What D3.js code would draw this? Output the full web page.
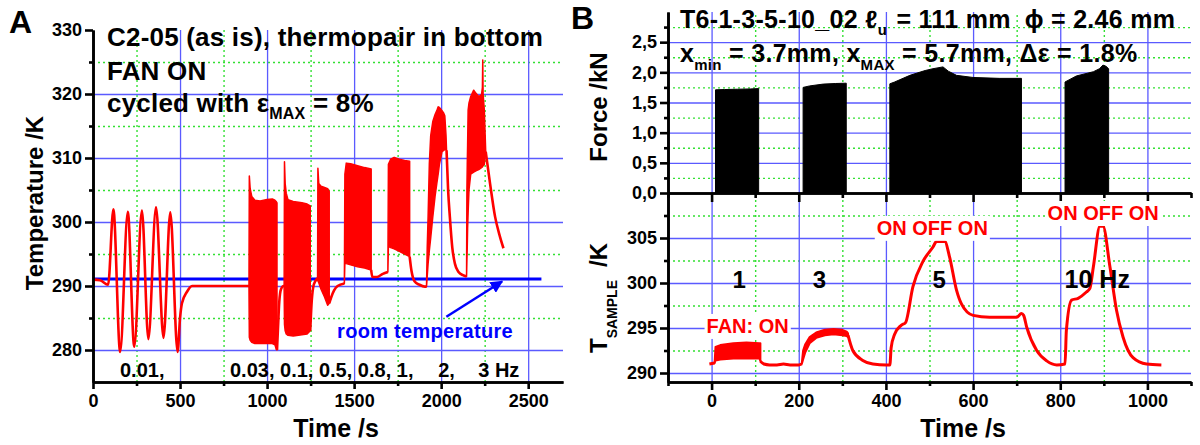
<!DOCTYPE html>
<html>
<head>
<meta charset="utf-8">
<script src="https://cdn.jsdelivr.net/npm/d3@7/dist/d3.min.js"></script>
<style>
body { margin: 0; background: #fff; }
svg text { font-family: "Liberation Sans", Arial, sans-serif; font-weight: bold; }
.grid-major line { stroke: #5a5aff; stroke-width: 1.3; }
.grid-minor line { stroke: #33e033; stroke-width: 1.4; stroke-dasharray: 2,3; }
.grid-major path, .grid-minor path { display: none; }
.axis path, .axis line { stroke: #000; stroke-width: 2.6; }
.axis text { font-size: 18px; fill: #000; }
</style>
</head>
<body>
<svg id="chart" width="1200" height="445"></svg>
<script>
// ---------- panel A : temperature vs time, frequencies 0.01 ... 3 Hz ----------
var aTicksX = [0, 500, 1000, 1500, 2000, 2500];
var aMinorX = [250, 750, 1250, 1750, 2250];
var aTicksY = [280, 290, 300, 310, 320, 330];
var aMinorY = [285, 295, 305, 315, 325];
var aGridY = [280, 290, 300, 310, 320];
var aRoomT = 291.1;   // K, room temperature line
var aRoomEnd = 2576;  // s

// slow parts of the trace (time s, temperature K)
var aTrace = [
  [[0,291],[40,290.9],[87,290.2],[117,302],[156,279.7],[200,301.6],[237,280.5],[281,301.8],[318,281.7],
   [362,302.3],[405,281.9],[444,301.5],[486,279.7],[500,285],[511,287.3],[540,289.1],[569,290],[896,290]],
  [[1057,280],[1062,283],[1070,287.5],[1080,289.5],[1095,290],[1098,290]],
  [[1248,283],[1255,287],[1265,289.8],[1278,290.8],[1290,291.2]],
  [[1357,287.3],[1368,288.2],[1385,289.3],[1405,290],[1444,290.4]],
  [[1598,292.5],[1605,291.4],[1630,291.4],[1665,291.9],[1694,292.2]],
  [[1819,294.6],[1830,292.3],[1848,290.7],[1875,290.2],[1906,289.9],[1916,289.9]],
  [[2031,311.2],[2040,305],[2050,300.8],[2064,296],[2079,293.5],[2100,292.2],[2125,291.7],[2146,291.5]],
  [[2256,311],[2281,306],[2310,300.8],[2335,298],[2358,295.9]]
];

// cycling blocks: [time, lower envelope, upper envelope]
var aBlock003 = [[896,290,290],[898,282,307.2],[903,281.5,305.2],[912,281.2,304],[930,281,303.4],[960,281,303.3],
  [1000,281,303.5],[1030,281,303.6],[1045,280.8,303.4],[1052,280.2,303.2],[1057,280,303]];
var aBlock01 = [[1098,289.5,290],[1100,284,309.4],[1104,283,306],[1110,282.5,304.5],[1120,282.3,303.5],
  [1150,282.2,303.2],[1200,282.4,303],[1230,282.5,302.8],[1248,283,302.5]];
var aBlock05 = [[1290,291,291.2],[1292,290.8,308.4],[1297,290.5,306],[1310,289.5,305.6],[1330,288.3,305.4],
  [1348,287,305.2],[1357,287.3,304.8]];
var aBlock08 = [[1444,290.4,290.6],[1447,293.6,307.5],[1455,293.5,309.2],[1480,293.3,309.1],[1520,293,308.8],
  [1560,292.8,308.5],[1598,292.5,308.3]];
var aBlock1 = [[1694,292.2,292.4],[1697,296.2,309],[1710,296,309.8],[1730,295.8,310.1],[1760,295.4,309.8],
  [1790,295,309.6],[1819,294.6,309.5]];
var aBlock2 = [[1916,289.9,290],[1920,291.5,296],[1925,293.5,300.8],[1932,295.5,309],[1940,297.5,313.5],
  [1952,300.8,315.7],[1965,304,316.8],[1975,306,317.4],[1983,307.5,318],[1990,309,317.9],[2005,311,317.4],
  [2015,311.2,317],[2021,311.3,316.6],[2028,311.3,313.5],[2031,311.2,311.2]];
var aBlock3 = [[2146,291.5,291.7],[2148,294,305],[2150,296,309],[2152,299,312],[2155,301.5,317.5],[2160,305,318.6],
  [2170,307.5,319.6],[2187,307.8,320.6],[2200,308,320.1],[2216,308.2,319.6],[2232,308.5,319.9],[2237,308.6,321],
  [2239,308.7,325.3],[2241,308.8,320],[2248,309,317.5],[2256,311,311]];
var aBlocks = [aBlock003, aBlock01, aBlock05, aBlock08, aBlock1, aBlock2, aBlock3];

var aFreqLabels = [["0.01,", 155], ["0.03, 0.1, 0.5, 0.8, 1,", 787], ["2,", 1983], ["3 Hz", 2213]];

// ---------- panel B : force and sample temperature ----------
var bTicksX = [0, 200, 400, 600, 800, 1000];
var bMinorX = [-100, 100, 300, 500, 700, 900, 1100];
var bTicksF = [0, 0.5, 1.0, 1.5, 2.0, 2.5];
var bMinorF = [0.25, 0.75, 1.25, 1.75, 2.25, 2.75];
var bTicksT = [290, 295, 300, 305];
var bMinorT = [292.5, 297.5, 302.5, 307.5];

// force maxima per cycling block [time, kN]
var bForce1 = [[9,1.71],[30,1.715],[60,1.72],[90,1.725],[108,1.73]];
var bForce3 = [[210,1.75],[225,1.775],[256,1.805],[285,1.815],[309,1.82]];
var bForce5 = [[409,1.81],[420,1.84],[455,1.95],[490,2.03],[508,2.06],[531,2.09],[543,2.02],[562,1.95],
  [600,1.915],[660,1.9],[711,1.9]];
var bForce10 = [[811,1.84],[837,1.94],[876,2.01],[890,2.06],[898,2.12],[905,2.1],[911,2.06]];
var bForce = [bForce1, bForce3, bForce5, bForce10];

// sample temperature, slow parts [time, K]
var bTrace = [
  [[-5,291],[7,291.1]],
  [[112,291.3],[120,291],[133,290.9],[150,290.9],[165,291],[180,290.9],[200,290.9],[207,291]],
  [[313,294.2],[324,292.5],[347,291.4],[370,291],[401,290.9],[409,290.9],[412,292.8],[420,294.3],[435,295.3],
   [445,295.6],[462,299.6],[485,302.4],[508,304],[516,304.6],[535,304.6],[546,302.9],[562,299.2],[573,297.7],
   [600,296.4],[638,296.2],[700,296.2],[711,296.6],[716,296.4],[723,295.1],[746,292.5],[769,291.35],[792,290.9],
   [811,291],[814,294.7],[826,298.1],[841,298.3],[860,299],[868,299.4],[876,301.8],[891,306.3],[898,306.3],
   [914,301.8],[929,297],[944,294],[967,291.7],[998,291],[1032,290.9]]
];
// oscillating blocks [time, lower, upper]
var bBlock1 = [[7,291.1,291.2],[9,291.4,292.9],[20,291.5,293.1],[50,291.6,293.3],[80,291.6,293.4],[110,291.6,293.3],[112,291.3,293.3]];
var bBlock3 = [[207,291,291.1],[210,291.5,292.5],[215,292.3,293.2],[225,293.3,294],[240,293.9,294.5],[260,294.2,294.8],
  [280,294.3,294.9],[300,294.2,294.8],[310,294.1,294.6],[313,294,294.4]];
var bBlocks = [bBlock1, bBlock3];

// ---------- drawing ----------
var svg = d3.select("#chart");

var xA = d3.scaleLinear().domain([0, 2700]).range([93, 563]);
var yA = d3.scaleLinear().domain([275, 330]).range([382, 30]);
var xB = d3.scaleLinear().domain([-100, 1100]).range([668, 1191]);
var yF = d3.scaleLinear().domain([0, 3]).range([193, 12]);
var yT = d3.scaleLinear().domain([289, 310]).range([382, 193]);

function vGrid(x, vals, y0, y1, cls) {
  svg.append("g").attr("class", cls)
    .attr("transform", "translate(0," + y0 + ")")
    .call(d3.axisBottom(x).tickValues(vals).tickSize(-(y0 - y1)).tickFormat(""));
}
function hGrid(y, vals, x0, x1, cls) {
  svg.append("g").attr("class", cls)
    .attr("transform", "translate(" + x0 + ",0)")
    .call(d3.axisLeft(y).tickValues(vals).tickSize(-(x1 - x0)).tickFormat(""));
}

// grids A
vGrid(xA, aMinorX, 382, 30, "grid-minor");
hGrid(yA, aMinorY, 93, 563, "grid-minor");
vGrid(xA, aTicksX.slice(1), 382, 30, "grid-major");
hGrid(yA, aGridY, 93, 563, "grid-major");

// grids B
vGrid(xB, bMinorX.slice(1, -1), 382, 12, "grid-minor");
hGrid(yF, bMinorF, 668, 1191, "grid-minor");
hGrid(yT, bMinorT, 668, 1191, "grid-minor");
vGrid(xB, bTicksX, 382, 12, "grid-major");
hGrid(yF, bTicksF.slice(1), 668, 1191, "grid-major");
hGrid(yT, bTicksT, 668, 1191, "grid-major");

// room temperature line
svg.append("line")
  .attr("x1", xA(0)).attr("x2", xA(aRoomEnd))
  .attr("y1", yA(aRoomT)).attr("y2", yA(aRoomT))
  .attr("stroke", "#0000ff").attr("stroke-width", 3);

// panel A trace
var lineA = d3.line().x(function(d) { return xA(d[0]); }).y(function(d) { return yA(d[1]); }).curve(d3.curveMonotoneX);
var bandA = d3.area().x(function(d) { return xA(d[0]); }).y0(function(d) { return yA(d[1]); }).y1(function(d) { return yA(d[2]); });

svg.selectAll(".bandA").data(aBlocks).enter().append("path")
  .attr("class", "bandA").attr("d", bandA)
  .attr("fill", "#ff0000").attr("stroke", "#ff0000").attr("stroke-width", 1.5).attr("stroke-linejoin", "round");
svg.selectAll(".traceA").data(aTrace).enter().append("path")
  .attr("class", "traceA").attr("d", lineA)
  .attr("fill", "none").attr("stroke", "#ff0000").attr("stroke-width", 2.6).attr("stroke-linejoin", "round");

// panel B force
var areaF = d3.area().x(function(d) { return xB(d[0]); }).y0(yF(0)).y1(function(d) { return yF(d[1]); });
svg.selectAll(".force").data(bForce).enter().append("path")
  .attr("class", "force").attr("d", areaF)
  .attr("fill", "#000").attr("stroke", "#000").attr("stroke-width", 1);

// panel B temperature
var lineB = d3.line().x(function(d) { return xB(d[0]); }).y(function(d) { return yT(d[1]); }).curve(d3.curveMonotoneX);
var bandB = d3.area().x(function(d) { return xB(d[0]); }).y0(function(d) { return yT(d[1]); }).y1(function(d) { return yT(d[2]); });
svg.selectAll(".bandB").data(bBlocks).enter().append("path")
  .attr("class", "bandB").attr("d", bandB)
  .attr("fill", "#ff0000").attr("stroke", "#ff0000").attr("stroke-width", 2).attr("stroke-linejoin", "round");
svg.selectAll(".traceB").data(bTrace).enter().append("path")
  .attr("class", "traceB").attr("d", lineB)
  .attr("fill", "none").attr("stroke", "#ff0000").attr("stroke-width", 3).attr("stroke-linejoin", "round");

// axes A
svg.append("g").attr("class", "axis").attr("transform", "translate(93,0)")
  .call(d3.axisLeft(yA).tickValues(aTicksY).tickSize(8).tickSizeOuter(0).tickPadding(3).tickFormat(d3.format("d")));
svg.append("g").attr("class", "axis").attr("transform", "translate(93,0)")
  .call(d3.axisLeft(yA).tickValues(aMinorY).tickSize(4).tickSizeOuter(0).tickFormat(""));
svg.append("g").attr("class", "axis").attr("transform", "translate(0,382)")
  .call(d3.axisBottom(xA).tickValues(aTicksX).tickSize(7).tickSizeOuter(0).tickPadding(5).tickFormat(d3.format("d")));
svg.append("g").attr("class", "axis").attr("transform", "translate(0,382)")
  .call(d3.axisBottom(xA).tickValues(aMinorX).tickSize(4).tickSizeOuter(0).tickFormat(""));

// axes B
var commaFmt = function(d) { return d.toFixed(1).replace(".", ","); };
svg.append("g").attr("class", "axis").attr("transform", "translate(668,0)")
  .call(d3.axisLeft(yF).tickValues(bTicksF).tickSize(8).tickSizeOuter(0).tickPadding(3).tickFormat(commaFmt));
svg.append("g").attr("class", "axis").attr("transform", "translate(668,0)")
  .call(d3.axisLeft(yF).tickValues(bMinorF).tickSize(4).tickSizeOuter(0).tickFormat(""));
svg.append("g").attr("class", "axis").attr("transform", "translate(668,0)")
  .call(d3.axisLeft(yT).tickValues(bTicksT).tickSize(8).tickSizeOuter(0).tickPadding(3).tickFormat(d3.format("d")));
svg.append("g").attr("class", "axis").attr("transform", "translate(668,0)")
  .call(d3.axisLeft(yT).tickValues(bMinorT).tickSize(4).tickSizeOuter(0).tickFormat(""));
svg.append("g").attr("class", "axis").attr("transform", "translate(0,193)")
  .call(d3.axisBottom(xB).tickValues(bTicksX).tickSize(9).tickSizeOuter(0).tickFormat(""));
svg.append("g").attr("class", "axis").attr("transform", "translate(0,193)")
  .call(d3.axisBottom(xB).tickValues(bMinorX).tickSize(5).tickSizeOuter(0).tickFormat(""));
svg.append("g").attr("class", "axis").attr("transform", "translate(0,382)")
  .call(d3.axisBottom(xB).tickValues(bTicksX).tickSize(8).tickSizeOuter(0).tickPadding(4).tickFormat(d3.format("d")));
svg.append("g").attr("class", "axis").attr("transform", "translate(0,382)")
  .call(d3.axisBottom(xB).tickValues(bMinorX).tickSize(4).tickSizeOuter(0).tickFormat(""));

// ---------- texts ----------
function label(x, y, txt, size, color) {
  return svg.append("text").attr("x", x).attr("y", y).attr("font-size", size).attr("fill", color || "#000").text(txt);
}

label(9, 33, "A", 32);
label(571, 29, "B", 32);

// panel A header
var headA = svg.append("g").attr("font-size", 26).attr("letter-spacing", 0.2);
headA.append("text").attr("x", 107).attr("y", 46).text("C2-05 (as is), thermopair in bottom");
headA.append("text").attr("x", 107).attr("y", 80).text("FAN ON");
var cyc = headA.append("text").attr("x", 107).attr("y", 112);
cyc.append("tspan").text("cycled with \u03b5");
cyc.append("tspan").attr("font-size", 16).attr("dy", 7).text("MAX");
cyc.append("tspan").attr("dy", -7).text(" = 8%");

aFreqLabels.forEach(function(d) {
  label(xA(d[1]), yA(275.8), d[0], 20);
});

// room temperature annotation
svg.append("defs").append("marker").attr("id", "arrowhead")
  .attr("viewBox", "0 0 10 10").attr("refX", 9).attr("refY", 5)
  .attr("markerWidth", 5).attr("markerHeight", 5).attr("orient", "auto")
  .append("path").attr("d", "M0,0L10,5L0,10z").attr("fill", "#0000ff");
svg.append("line")
  .attr("x1", xA(2030)).attr("y1", yA(285.2))
  .attr("x2", xA(2350)).attr("y2", yA(290.7))
  .attr("stroke", "#0000ff").attr("stroke-width", 2.5).attr("marker-end", "url(#arrowhead)");
label(xA(1402), yA(281.9), "room temperature", 20, "#0000ff").attr("letter-spacing", 0.3);

// axis titles
svg.append("text").attr("transform", "translate(43,203) rotate(-90)")
  .attr("text-anchor", "middle").attr("font-size", 24).text("Temperature /K");
svg.append("text").attr("x", 336).attr("y", 437).attr("text-anchor", "middle").attr("font-size", 25).text("Time /s");
svg.append("text").attr("x", 963).attr("y", 437).attr("text-anchor", "middle").attr("font-size", 25).text("Time /s");
svg.append("text").attr("transform", "translate(607,107) rotate(-90)")
  .attr("text-anchor", "middle").attr("font-size", 24).text("Force /kN");
var tLab = svg.append("text").attr("transform", "translate(607,353) rotate(-90)").attr("font-size", 24);
tLab.append("tspan").text("T");
tLab.append("tspan").attr("font-size", 14).attr("dy", 10).text("SAMPLE");
tLab.append("tspan").attr("dy", -10).attr("dx", 13).text("/K");

// panel B header
var headB = svg.append("g").attr("font-size", 25).attr("letter-spacing", 0.3);
var h1 = headB.append("text").attr("x", 680).attr("y", 28);
h1.append("tspan").text("T6-1-3-5-10_02 \u2113");
h1.append("tspan").attr("font-size", 15).attr("dy", 7).text("u");
h1.append("tspan").attr("dy", -7).attr("dx", 2).text(" = 111 mm");
h1.append("tspan").attr("dx", 14).text("\u03d5 = 2.46 mm");
var h2 = headB.append("text").attr("x", 680).attr("y", 62);
h2.append("tspan").text("x");
h2.append("tspan").attr("font-size", 15).attr("dy", 8).text("min");
h2.append("tspan").attr("dy", -8).text(" = 3.7mm, x");
h2.append("tspan").attr("font-size", 15).attr("dy", 8).text("MAX");
h2.append("tspan").attr("dy", -8).text(" = 5.7mm, \u0394\u03b5 = 1.8%");

// panel B annotations (red ones sit on a white patch)
function boxed(t, T, txt) {
  var g = svg.append("g");
  var bg = g.append("rect").attr("fill", "#fff");
  var el = g.append("text").attr("x", xB(t)).attr("y", yT(T))
    .attr("font-size", 20).attr("fill", "#ff0000").text(txt);
  var bb = el.node().getBBox();
  bg.attr("x", bb.x - 2).attr("y", bb.y - 1).attr("width", bb.width + 4).attr("height", bb.height + 3);
}
boxed(-11.5, 294.45, "FAN: ON");
boxed(379, 305.35, "ON OFF ON");
boxed(771, 307, "ON OFF ON");
label(xB(48), yT(299.45), "1", 24);
label(xB(232), yT(299.45), "3", 24);
label(xB(507), yT(299.45), "5", 24);
label(xB(810), yT(299.45), "10 Hz", 25);
</script>
</body>
</html>
